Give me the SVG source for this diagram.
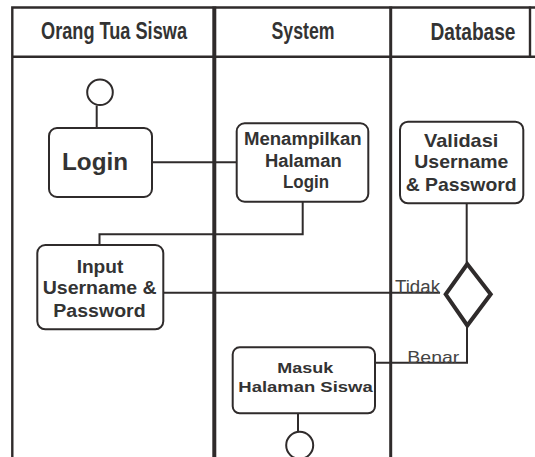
<svg xmlns="http://www.w3.org/2000/svg" width="535" height="457" viewBox="0 0 535 457">
<style>
.frame{fill:none;stroke:#2f2b2b;stroke-width:2.4}
.div{fill:none;stroke:#2f2b2b}
.hdr{font-family:"Liberation Sans Narrow","Liberation Sans",Arial,sans-serif;font-weight:bold;font-size:23.5px;fill:#333;text-anchor:middle}
.box{fill:#fff;stroke:#2f2b2b;stroke-width:2}
.lbl{font-family:"Liberation Sans",Arial,sans-serif;font-weight:bold;fill:#333;text-anchor:middle}
.conn{fill:none;stroke:#2f2b2b;stroke-width:2}
.guard{font-family:"Liberation Sans",Arial,sans-serif;fill:#444}
</style>
<rect width="535" height="457" fill="#fff"/>
<g id="swimlanes">
<path class="frame" d="M12.3 457V7.5H535M12.3 56.7H535"/>
<line class="div" x1="214.3" y1="6.5" x2="214.3" y2="457" stroke-width="4"/>
<line class="div" x1="390.7" y1="6.5" x2="390.7" y2="457" stroke-width="3"/>
<line class="div" x1="530" y1="6.5" x2="530" y2="57.9" stroke-width="2.4"/>
<text class="hdr" x="114" y="39" textLength="146" lengthAdjust="spacingAndGlyphs">Orang Tua Siswa</text>
<text class="hdr" x="303" y="39" textLength="63" lengthAdjust="spacingAndGlyphs">System</text>
<text class="hdr" x="473" y="40" textLength="85" lengthAdjust="spacingAndGlyphs">Database</text>
</g>
<g id="connectors">
<path class="conn" d="M96.7 105.5V128"/>
<path class="conn" d="M152 162.3H236.7"/>
<path class="conn" d="M302.7 201.7V234.3H99.5V245"/>
<path class="conn" d="M466.7 203.3V264"/>
<path class="conn" d="M163.3 292.7H440"/>
<path class="conn" d="M467 326V362.7H375"/>
<path class="conn" d="M298 413.3V431.7"/>
<text class="guard" x="395" y="293" font-size="18" textLength="45" lengthAdjust="spacingAndGlyphs">Tidak</text>
<text class="guard" x="407.3" y="362.5" font-size="17" textLength="52" lengthAdjust="spacingAndGlyphs">Benar</text>
</g>
<g id="start">
<circle cx="100" cy="92.3" r="12.8" fill="#fff" stroke="#2f2b2b" stroke-width="2"/>
</g>
<g id="login">
<rect class="box" x="49" y="128" width="103" height="69" rx="8"/>
<text class="lbl" x="95" y="170" font-size="24" textLength="66" lengthAdjust="spacingAndGlyphs">Login</text>
</g>
<g id="menampilkan">
<rect class="box" x="236.7" y="123.3" width="131.6" height="78.4" rx="8"/>
<text class="lbl" x="302.8" y="145" font-size="17.5" textLength="117.7" lengthAdjust="spacingAndGlyphs">Menampilkan</text>
<text class="lbl" x="303.3" y="166.7" font-size="17.5" textLength="76.7" lengthAdjust="spacingAndGlyphs">Halaman</text>
<text class="lbl" x="306" y="188" font-size="17.5" textLength="46" lengthAdjust="spacingAndGlyphs">Login</text>
</g>
<g id="validasi">
<rect class="box" x="400" y="121.7" width="123.3" height="81.6" rx="8"/>
<text class="lbl" x="461.2" y="146.7" font-size="18.5" textLength="74.3" lengthAdjust="spacingAndGlyphs">Validasi</text>
<text class="lbl" x="461.3" y="168.3" font-size="18.5" textLength="94" lengthAdjust="spacingAndGlyphs">Username</text>
<text class="lbl" x="461.2" y="190.7" font-size="18.5" textLength="111" lengthAdjust="spacingAndGlyphs">&amp; Password</text>
</g>
<g id="input">
<rect class="box" x="37.3" y="245" width="126" height="84.3" rx="8"/>
<text class="lbl" x="100" y="272.7" font-size="18" textLength="46.7" lengthAdjust="spacingAndGlyphs">Input</text>
<text class="lbl" x="99.7" y="294.3" font-size="18" textLength="114" lengthAdjust="spacingAndGlyphs">Username &amp;</text>
<text class="lbl" x="99.5" y="316.7" font-size="18" textLength="92.3" lengthAdjust="spacingAndGlyphs">Password</text>
</g>
<g id="decision">
<polygon points="467.3,264 445.7,294.3 467.3,325.5 490.7,294.3" fill="#fff" stroke="#2f2b2b" stroke-width="4" stroke-linejoin="miter"/>
</g>
<g id="masuk">
<rect class="box" x="232.7" y="347.3" width="142.3" height="66" rx="7"/>
<text class="lbl" x="305.3" y="373.3" font-size="15.5" textLength="56" lengthAdjust="spacingAndGlyphs">Masuk</text>
<text class="lbl" x="305.5" y="392.3" font-size="15.5" textLength="134.3" lengthAdjust="spacingAndGlyphs">Halaman Siswa</text>
</g>
<g id="end">
<circle cx="299.7" cy="445.3" r="13.5" fill="#fff" stroke="#2f2b2b" stroke-width="2"/>
</g>
</svg>
